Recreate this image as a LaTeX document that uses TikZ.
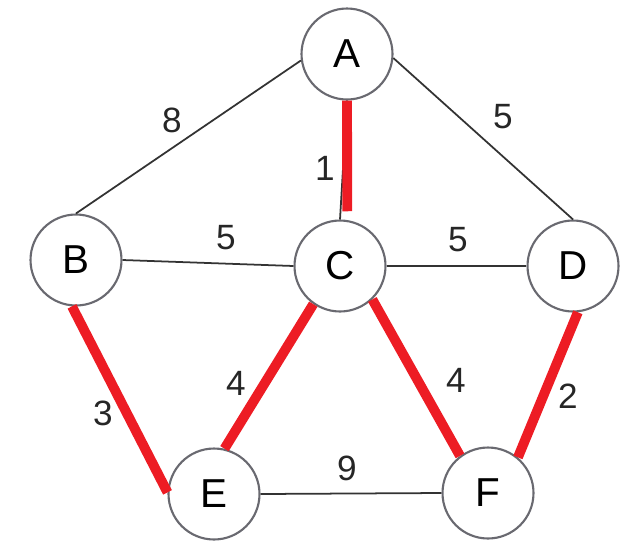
\documentclass[tikz,border=0pt]{standalone}
\usepackage{fontspec}
\setmainfont{Liberation Sans}
\definecolor{mstred}{RGB}{237,28,36}
\definecolor{ringgray}{RGB}{105,105,112}

\begin{document}
\begin{tikzpicture}[
    x=0.02cm, y=-0.02cm,
    vertex/.style={circle, draw=ringgray, line width=1.2pt, minimum size=1.82cm, inner sep=0pt, fill=white, font=\fontsize{23}{23}\selectfont},
    edge/.style={draw=black!80, line width=1pt},
    treeedge/.style={draw=mstred, line width=5.6pt},
    weight/.style={inner sep=0pt, text=black!85, font=\fontsize{20}{20}\selectfont},
]
\useasboundingbox (0,0) rectangle (638,555);

% Vertices
\node[vertex] (A) at (347,54) {A};
\node[vertex] (B) at (76,260) {B};
\node[vertex] (C) at (340,266) {C};
\node[vertex] (D) at (573,266) {D};
\node[vertex] (E) at (214,494) {E};
\node[vertex] (F) at (488,493) {F};

% Edges
\draw[edge] (A.188) -- (B.north);
\draw[edge] (A.355) -- (D.north);
\draw[edge] (A.south) -- (C.north);
\draw[edge] (B.east) -- (C.west);
\draw[edge] (C.east) -- (D.west);
\draw[edge] (E.east) -- (F.west);

% Spanning tree
\draw[treeedge, shorten >=5pt] (A.270) -- (C.81);
\draw[treeedge] (B.265) -- (E.178);
\draw[treeedge] (C.235) -- (E.77);
\draw[treeedge] (C.314) -- (F.127);
\draw[treeedge] (D.276) -- (F.50);

% Weights
\node[weight] (wAB) at (172,120) {8};
\node[weight] (wAD) at (503,117) {5};
\node[weight] (wAC) at (325,168) {1};
\node[weight] (wBC) at (226,238) {5};
\node[weight] (wCD) at (458,240) {5};
\node[weight] (wBE) at (103,413) {3};
\node[weight] (wCE) at (236,383) {4};
\node[weight] (wCF) at (456,380) {4};
\node[weight] (wDF) at (568,396) {2};
\node[weight] (wEF) at (347,468) {9};

\end{tikzpicture}
\end{document}
